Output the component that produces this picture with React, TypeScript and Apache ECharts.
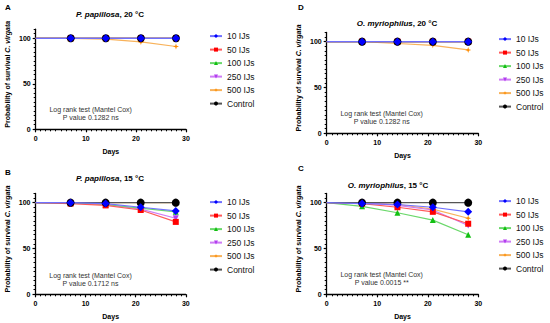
import React, { useEffect, useRef } from "react";
import * as echarts from "echarts";

const days = [0, 7, 14, 21, 28];
const seriesNames = ["10 IJs", "50 IJs", "100 IJs", "250 IJs", "500 IJs", "Control"];
const xTicks = [0, 10, 20, 30];
const yTicks = [0, 50, 100];

// Panel A: P. papillosa, 20 °C
const a10 = [100, 100, 100, 100, 100];
const a50 = [100, 100, 100, 100, 100];
const a100 = [100, 100, 100, 100, 100];
const a250 = [100, 100, 100, 100, 100];
const a500 = [100, 100, 99, 96, 91];
const aCtrl = [100, 100, 100, 100, 100];

// Panel D: O. myriophilus, 20 °C
const d10 = [100, 100, 100, 100, 100];
const d50 = [100, 100, 100, 100, 100];
const d100 = [100, 100, 100, 100, 100];
const d250 = [100, 100, 100, 100, 100];
const d500 = [100, 100, 98, 96, 91];
const dCtrl = [100, 100, 100, 100, 100];

// Panel B: P. papillosa, 15 °C
const b10 = [100, 100, 99, 95, 91];
const b50 = [100, 99, 97, 92, 79];
const b100 = [100, 100, 98, 94, 90];
const b250 = [100, 100, 98, 93, 83];
const b500 = [100, 100, 100, 100, 100];
const bCtrl = [100, 100, 100, 100, 100];

// Panel C: O. myriophilus, 15 °C
const c10 = [100, 99, 98, 95, 90];
const c50 = [100, 99, 95, 90, 77];
const c100 = [100, 96, 89, 81, 65];
const c250 = [100, 100, 97, 92, 75];
const c500 = [100, 100, 98, 93, 83];
const cCtrl = [100, 100, 100, 100, 100];

const FONT = "Liberation Sans, Arial, sans-serif";

const STAR = "path://M0,-10 L2.5,-2.5 L10,0 L2.5,2.5 L0,10 L-2.5,2.5 L-10,0 L-2.5,-2.5 Z";

const styles: any[] = [
  { color: "#0000ff", line: "#7070ff", symbol: "diamond", size: 8, rotate: 0 },
  { color: "#ff0000", line: "#ff5a5a", symbol: "rect", size: 6, rotate: 0 },
  { color: "#12c012", line: "#6ad86a", symbol: "triangle", size: 6, rotate: 0 },
  { color: "#b23cf0", line: "#cf7cf5", symbol: "triangle", size: 6, rotate: 180 },
  { color: "#ff8c00", line: "#f8b25a", symbol: STAR, size: 6, rotate: 0 },
  { color: "#000000", line: "#555555", symbol: "circle", size: 8, rotate: 0 },
];

type Panel = {
  letter: string;
  letterPos: [number, number];
  species: string;
  temp: string;
  titlePos: [number, number];
  grid: { left: number; top: number; width: number; height: number };
  legend: { left: number; top: number };
  pval: string;
  annotY: number;
  data: number[][];
};

const panels: Panel[] = [
  {
    letter: "A", letterPos: [5, 7], species: "P. papillosa", temp: ", 20 °C", titlePos: [110, 14],
    grid: { left: 35.7, top: 29.2, width: 150.3, height: 100.1 },
    legend: { left: 209, top: 31 }, pval: "P value 0.1282 ns", annotY: 109.3,
    data: [a10, a50, a100, a250, a500, aCtrl],
  },
  {
    letter: "D", letterPos: [298, 7], species: "O. myriophilus", temp: ", 20 °C", titlePos: [397, 23],
    grid: { left: 326.7, top: 32.5, width: 151.6, height: 100.8 },
    legend: { left: 498, top: 34 }, pval: "P value 0.1282 ns", annotY: 113.3,
    data: [d10, d50, d100, d250, d500, dCtrl],
  },
  {
    letter: "B", letterPos: [5, 172], species: "P. papillosa", temp: ", 15 °C", titlePos: [110, 178],
    grid: { left: 35.5, top: 193.5, width: 150.3, height: 100.8 },
    legend: { left: 209, top: 197 }, pval: "P value 0.1712 ns", annotY: 275,
    data: [b10, b50, b100, b250, b500, bCtrl],
  },
  {
    letter: "C", letterPos: [298, 168], species: "O. myriophilus", temp: ", 15 °C", titlePos: [388, 185],
    grid: { left: 326.7, top: 193.5, width: 151.6, height: 100.8 },
    legend: { left: 498, top: 196 }, pval: "P value 0.0015 **", annotY: 274.5,
    data: [c10, c50, c100, c250, c500, cCtrl],
  },
];

function buildOption() {
  const grid: any[] = [];
  const xAxis: any[] = [];
  const yAxis: any[] = [];
  const series: any[] = [];
  const legend: any[] = [];
  const graphic: any[] = [];

  panels.forEach((p, pi) => {
    grid.push({ ...p.grid });
    xAxis.push({
      type: "value", gridIndex: pi, min: 0, max: 30, interval: 10,
      axisLine: { show: true, lineStyle: { color: "#000", width: 1.3 } },
      axisTick: { show: true, length: 3, lineStyle: { color: "#000", width: 1.2 } },
      minorTick: { show: true, splitNumber: 10, length: 2, lineStyle: { color: "#000", width: 1 } },
      splitLine: { show: false },
      axisLabel: { margin: 6, fontSize: 7, fontWeight: "bold", color: "#000", fontFamily: FONT,
        formatter: (v: number) => (xTicks.includes(v) ? String(v) : "") },
      name: "Days", nameLocation: "middle", nameGap: 19,
      nameTextStyle: { fontSize: 7, fontWeight: "bold", color: "#000", fontFamily: FONT },
    });
    yAxis.push({
      type: "value", gridIndex: pi, min: 0, max: 110,
      axisLine: { show: true, lineStyle: { color: "#000", width: 1.3 } },
      axisTick: { show: true, length: 3, customValues: yTicks, lineStyle: { color: "#000", width: 1.2 } },
      splitLine: { show: false },
      axisLabel: { margin: 5, fontSize: 7, fontWeight: "bold", color: "#000", fontFamily: FONT,
        customValues: yTicks },
    });
    yAxis.push({
      type: "value", gridIndex: pi, min: 0, max: 110, interval: 5, position: "left",
      axisLine: { show: false },
      axisTick: { show: true, length: 2, lineStyle: { color: "#000", width: 1 } },
      splitLine: { show: false },
      axisLabel: { show: false },
    });

    const yMain = pi * 2;
    // drawing order: bottom to top
    const order = [4, 3, 2, 1, 5, 0];
    order.forEach((si) => {
      const st = styles[si];
      series.push({
        type: "line", name: seriesNames[si], xAxisIndex: pi, yAxisIndex: yMain,
        data: days.map((d, i) => (i === 0 ? { value: [d, p.data[si][i]], symbol: "none" } : [d, p.data[si][i]])),
        symbol: st.symbol, symbolSize: st.size, symbolRotate: st.rotate, showSymbol: true,
        itemStyle: { color: st.color },
        lineStyle: { color: st.line, width: 1.2 },
        emphasis: { disabled: true },
        clip: false, z: 2,
      });
    });

    legend.push({
      orient: "vertical", left: p.legend.left, top: p.legend.top, padding: 0,
      itemWidth: 12, itemHeight: 5, itemGap: 3.3,
      data: seriesNames,
      textStyle: { fontSize: 8.5, color: "#111", fontFamily: FONT, lineHeight: 10.2 },
      selectedMode: false,
    });

    graphic.push({
      type: "text", x: p.letterPos[0], y: p.letterPos[1],
      style: { text: p.letter, font: `bold 8px ${FONT}`, fill: "#000", textVerticalAlign: "middle" },
    });
    graphic.push({
      type: "text", x: p.titlePos[0], y: p.titlePos[1],
      style: {
        text: `{i|${p.species}}{n|${p.temp}}`,
        rich: {
          i: { fontStyle: "italic", fontWeight: "bold", fontSize: 8, fontFamily: FONT, fill: "#000" },
          n: { fontWeight: "bold", fontSize: 8, fontFamily: FONT, fill: "#000" },
        },
        align: "center", verticalAlign: "middle",
      },
    });
    const g = p.grid;
    graphic.push({
      type: "text", x: g.left - 28.5, y: g.top + g.height / 2 - 5, rotation: Math.PI / 2,
      style: {
        text: "{n|Probability of survival }{i|C. virgata}",
        rich: {
          n: { fontWeight: "bold", fontSize: 7, fontFamily: FONT, fill: "#000" },
          i: { fontWeight: "bold", fontStyle: "italic", fontSize: 7, fontFamily: FONT, fill: "#000" },
        },
        align: "center", verticalAlign: "middle",
      },
    });
    const cx = g.left + 55;
    graphic.push({
      type: "text", x: cx, y: p.annotY,
      style: { text: "Log rank test (Mantel Cox)", font: `7px ${FONT}`, fill: "#333", align: "center", verticalAlign: "middle" },
    });
    graphic.push({
      type: "text", x: cx, y: p.annotY + 8.3,
      style: { text: p.pval, font: `7px ${FONT}`, fill: "#333", align: "center", verticalAlign: "middle" },
    });
  });

  return { animation: false, backgroundColor: "#fff", grid, xAxis, yAxis, series, legend, graphic };
}

export default function App() {
  const ref = useRef<HTMLDivElement>(null);
  useEffect(() => {
    if (!ref.current) return;
    const chart = echarts.init(ref.current, null, { renderer: "svg" });
    chart.setOption(buildOption());
    return () => chart.dispose();
  }, []);
  return (
    <div
      ref={ref}
      style={{ position: "fixed", left: 0, top: 0, width: 550, height: 323, background: "#fff" }}
    />
  );
}
